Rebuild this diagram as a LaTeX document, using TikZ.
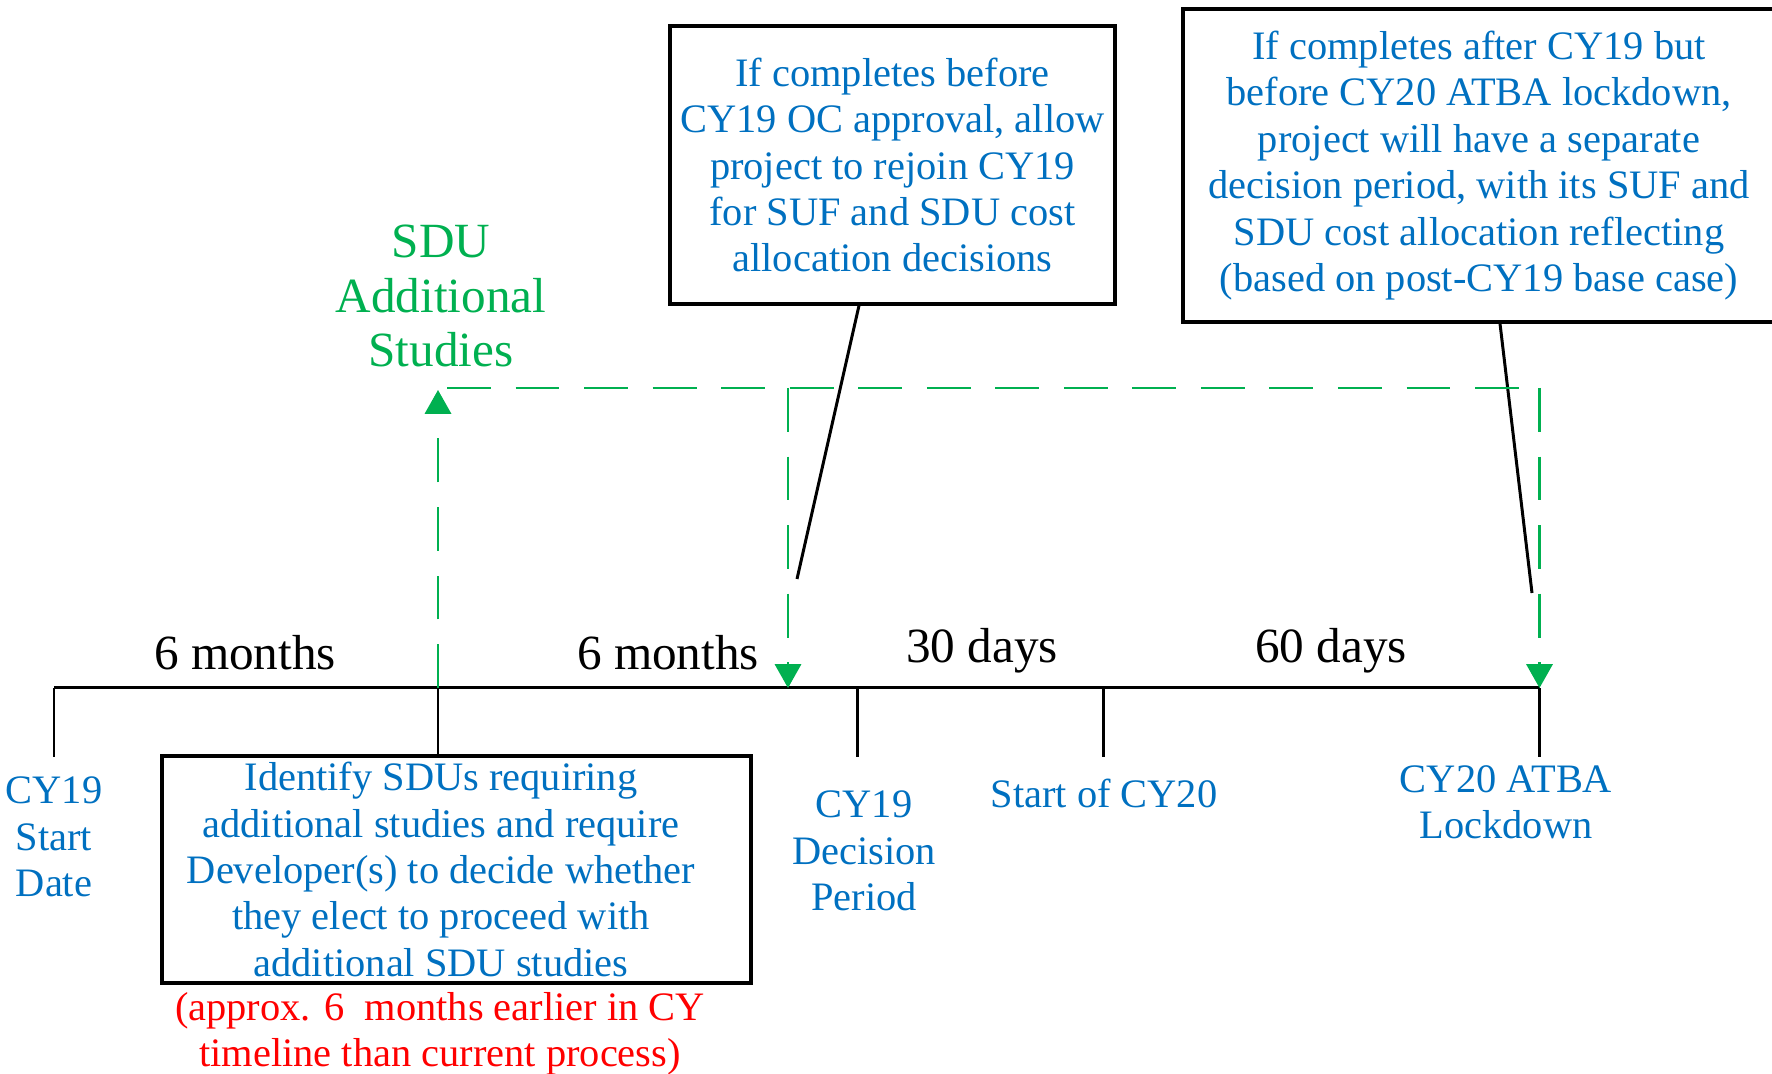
\documentclass[tikz,border=0pt]{standalone}
\usepackage{fontspec}
\setmainfont{Liberation Serif}
\usetikzlibrary{arrows.meta}
\definecolor{cyblue}{RGB}{0,112,192}
\definecolor{cygreen}{RGB}{0,176,80}
\newcommand{\bt}{\fontsize{11.5}{13.2}\selectfont}
\newcommand{\gt}{\fontsize{14}{15.6}\selectfont}
\tikzset{
  box/.style={draw, line width=0.9pt, inner sep=0pt, align=center, text=cyblue, font=\bt},
  blu/.style={text=cyblue, align=center, font=\bt, inner sep=0pt},
  dur/.style={font=\gt, anchor=base, inner sep=0pt},
  tick/.style={line width=0.85pt},
  gdash/.style={cygreen, line width=0.65pt, dash pattern=on 12.5pt off 7pt},
  garrow/.style={gdash, -{Triangle[width=7.5pt,length=6.8pt]}},
}
\begin{document}
\begin{tikzpicture}
  \clip (0,0) rectangle (17.72,10.74);
  % points on the timeline
  \coordinate (t0) at ( 0.54 ,3.86);
  \coordinate (t1) at ( 4.38 ,3.86);
  \coordinate (t2) at ( 7.88 ,3.86);
  \coordinate (t3) at ( 8.57 ,3.86);
  \coordinate (t4) at (11.03 ,3.86);
  \coordinate (t5) at (15.395,3.86);
  \coordinate (b0) at ( 0.54 ,3.17);
  \coordinate (b3) at ( 8.57 ,3.17);
  \coordinate (b4) at (11.03 ,3.17);
  \coordinate (b5) at (15.395,3.17);
  % boxes
  \node[box, minimum width=4.45cm, minimum height=2.78cm] (rejoin) at (8.925,9.09)
    {If completes before\\CY19 OC approval, allow\\project to rejoin CY19\\for SUF and SDU cost\\allocation decisions};
  \node[box, minimum width=6.4cm, minimum height=3.13cm] (separate) at (15.03,9.085) {};
  \node[blu] (septext) at (14.79,9.085)
    {If completes after CY19 but\\before CY20 ATBA lockdown,\\project will have a separate\\decision period, with its SUF and\\SDU cost allocation reflecting\\(based on post-CY19 base case)};
  \node[box, minimum width=5.89cm, minimum height=2.27cm] (identify) at (4.565,2.045) {};
  \node[blu] (idtext) at (4.41,2.045)
    {Identify SDUs requiring\\additional studies and require\\Developer(s) to decide whether\\they elect to proceed with\\additional SDU studies};
  \node[blu, text=red] (note) at (4.40,0.40)
    {(approx. 6\ \ months earlier in CY\\timeline than current process)};
  % labels under the ticks
  \node[blu] (start)    at ( 0.54,2.37) {CY19\\Start\\Date};
  \node[blu] (decision) at ( 8.64,2.23) {CY19\\Decision\\Period};
  \node[blu] (cy20)     at (11.04,2.81) {Start of CY20};
  \node[blu] (lock)     at (15.06,2.72) {CY20 ATBA\\Lockdown};
  % durations
  \node[dur] (m1) at ( 2.45,4.04) {6 months};
  \node[dur] (m2) at ( 6.68,4.04) {6 months};
  \node[dur] (d1) at ( 9.82,4.11) {30 days};
  \node[dur] (d2) at (13.31,4.11) {60 days};
  \node[font=\gt, text=cygreen, align=center, inner sep=0pt] (sdu) at (4.41,7.78)
    {SDU\\Additional\\Studies};
  % timeline and ticks
  \draw[tick] (t0) -- (t5);
  \draw[tick] (t0) -- (b0);
  \draw[tick] (t1) -- (identify.north -| t1);
  \draw[tick] (t3) -- (b3);
  \draw[tick] (t4) -- (b4);
  \draw[tick] (t5) -- (b5);
  % callouts
  \coordinate (c1) at ( 7.97,4.95);
  \coordinate (c2) at (15.32,4.81);
  \draw[tick] ([xshift=-0.335cm]rejoin.south) -- (c1);
  \draw[tick] (separate.south -| 15.00,0)     -- (c2);
  % green dashed paths
  \coordinate (g0) at ( 4.38 ,6.84);
  \coordinate (g1) at ( 4.47 ,6.86);
  \coordinate (g2) at ( 7.88 ,6.86);
  \coordinate (g3) at (15.395,6.86);
  \draw[garrow] (t1) -- (g0);
  \draw[gdash ] (g1) -- (g3);
  \draw[garrow] (g2) -- (t2);
  \draw[garrow] (g3) -- (t5);
\end{tikzpicture}
\end{document}
